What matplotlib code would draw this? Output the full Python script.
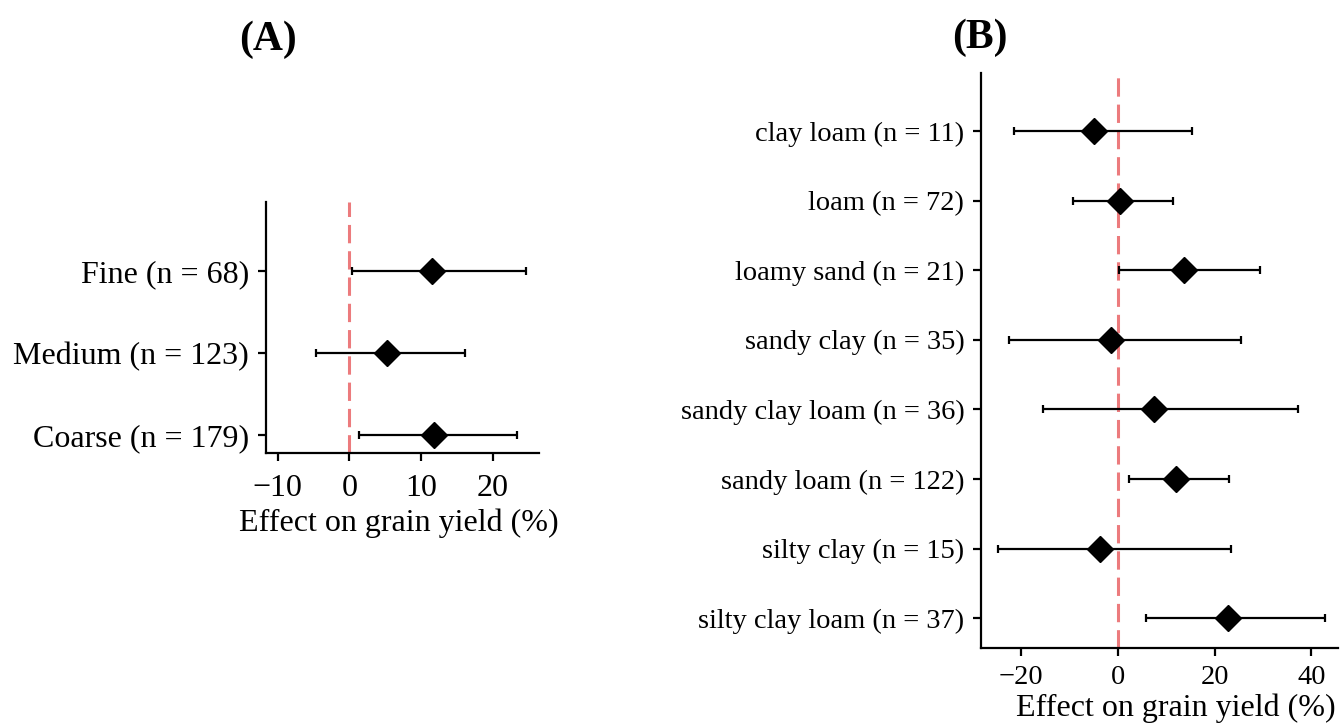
import numpy as np
import matplotlib
matplotlib.use("Agg")
import matplotlib.pyplot as plt

plt.rcParams['font.family'] = ['Liberation Serif', 'DejaVu Serif']
plt.rcParams['axes.unicode_minus'] = True

RED = '#EC7B7D'

# (A) texture classes, bottom to top
a_labels = ['Coarse (n = 179)', 'Medium (n = 123)', 'Fine (n = 68)']
a_mean = [11.8, 5.2, 11.6]
a_low = [1.4, -4.6, 0.3]
a_high = [23.4, 16.2, 24.7]
a_ticks = [-10, 0, 10, 20]

# (B) texture types, bottom to top
b_labels = ['silty clay loam (n = 37)', 'silty clay (n = 15)', 'sandy loam (n = 122)',
            'sandy clay loam (n = 36)', 'sandy clay (n = 35)', 'loamy sand (n = 21)',
            'loam (n = 72)', 'clay loam (n = 11)']
b_mean = [22.7, -3.6, 12.1, 7.6, -1.4, 13.6, 0.5, -4.9]
b_low = [5.8, -24.6, 2.4, -15.4, -22.4, 0.2, -9.2, -21.4]
b_high = [42.7, 23.3, 22.9, 37.2, 25.5, 29.3, 11.4, 15.4]
b_ticks = [-20, 0, 20, 40]


def forest(ax, labels, mean, low, high, ticks, xlim, ylim, xlab_pos, fs, xpad):
    y = np.arange(1, len(labels) + 1)
    mean = np.array(mean)
    err = [mean - np.array(low), np.array(high) - mean]
    ax.axvline(0, color=RED, lw=2.2, ls=(0, (6, 2.6)), zorder=1)
    ax.errorbar(mean, y, xerr=err, fmt='none', ecolor='black', elinewidth=1.6,
                capsize=3, capthick=1.6, zorder=2)
    ax.plot(mean, y, 'D', color='black', ms=13, zorder=3)
    ax.set_yticks(y)
    ax.set_yticklabels(labels)
    ax.set_xticks(ticks)
    ax.set_xlim(*xlim)
    ax.set_ylim(*ylim)
    for s in ['top', 'right']:
        ax.spines[s].set_visible(False)
    for s in ['left', 'bottom']:
        ax.spines[s].set_linewidth(1.6)
    ax.tick_params(axis='both', labelsize=fs, length=6, width=1.6, pad=6)
    ax.tick_params(axis='x', pad=xpad)
    ax.set_xlabel('Effect on grain yield (%)', fontsize=23)
    ax.xaxis.set_label_coords(*xlab_pos)


fig = plt.figure(figsize=(13.41, 7.26), dpi=100)
ax1 = fig.add_axes([0.198, 0.376, 0.2036, 0.3457])
ax2 = fig.add_axes([0.7315, 0.1074, 0.266, 0.7924])

forest(ax1, a_labels, a_mean, a_low, a_high, a_ticks, (-11.7, 26.4), (0.78, 3.84),
       (0.49, -0.22), 23, 9)
forest(ax2, b_labels, b_mean, b_low, b_high, b_ticks, (-28.2, 45.4), (0.57, 8.84),
       (0.546, -0.079), 20.5, 6)

fig.text(0.2, 0.945, '(A)', fontsize=30, fontweight='bold', ha='center', va='center')
fig.text(0.731, 0.948, '(B)', fontsize=30, fontweight='bold', ha='center', va='center')

fig.savefig('out.png', dpi=100)
